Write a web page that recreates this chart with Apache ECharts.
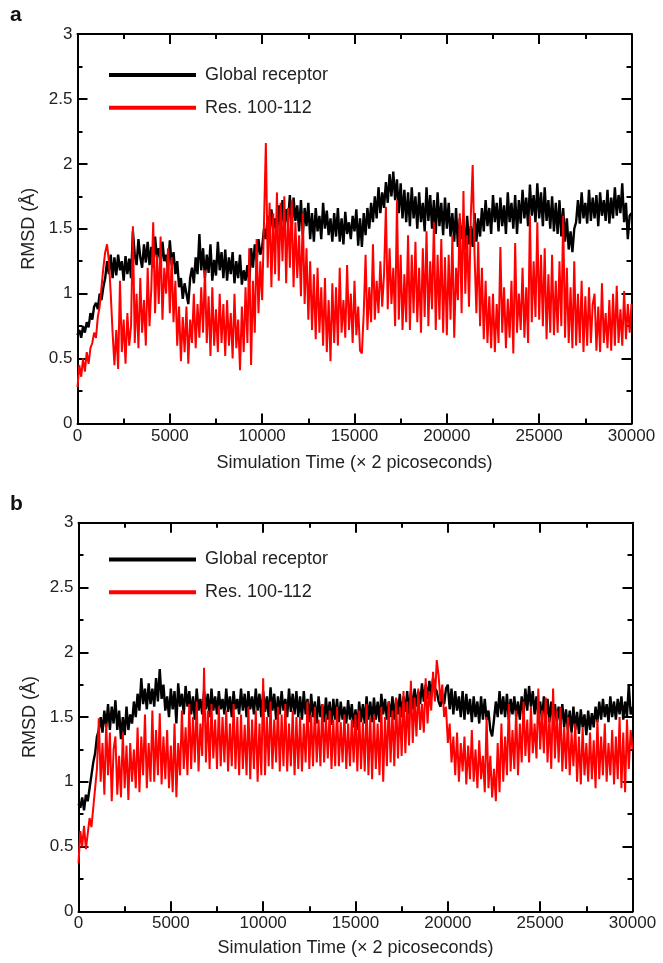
<!DOCTYPE html>
<html>
<head>
<meta charset="utf-8">
<script src="https://cdn.jsdelivr.net/npm/echarts@6/dist/echarts.min.js"></script>
<style>
html,body{margin:0;padding:0;background:#fff;}
#c{width:663px;height:963px;}
</style>
</head>
<body>
<div id="c"></div>
<script>
// Time step between samples (× 2 ps)
var STEP = 100;
var X_TICKS = [0, 5000, 10000, 15000, 20000, 25000, 30000];
var Y_TICKS = [0, 0.5, 1, 1.5, 2, 2.5, 3];
var SERIES_NAMES = ['Global receptor', 'Res. 100-112'];

// Panel a – Global receptor (one row = 2000 time units)
var globalA = [
0.68,0.72,0.66,0.75,0.70,0.78,0.74,0.85,0.80,0.90,0.93,0.88,1.00,0.95,1.05,1.12,1.25,1.15,1.30,1.12,
1.28,1.14,1.30,1.18,1.25,1.10,1.29,1.15,1.27,1.12,1.48,1.30,1.22,1.42,1.28,1.20,1.38,1.24,1.40,1.22,
1.36,1.20,1.44,1.28,1.35,1.22,1.40,1.25,1.30,1.18,1.41,1.22,1.32,1.15,1.25,1.05,1.12,0.96,1.08,1.00,
0.92,1.12,1.20,1.08,1.28,1.15,1.46,1.18,1.35,1.12,1.30,1.16,1.38,1.10,1.26,1.14,1.40,1.18,1.32,1.12,
1.34,1.10,1.28,1.15,1.32,1.08,1.25,1.12,1.30,1.07,1.18,1.10,1.22,1.08,1.35,1.20,1.38,1.25,1.42,1.30,
1.36,1.50,1.42,1.60,1.45,1.65,1.50,1.58,1.46,1.68,1.52,1.72,1.48,1.65,1.55,1.76,1.50,1.74,1.56,1.68,
1.48,1.72,1.45,1.66,1.52,1.70,1.42,1.62,1.40,1.66,1.48,1.60,1.42,1.70,1.50,1.64,1.45,1.58,1.40,1.62,
1.44,1.66,1.40,1.58,1.38,1.63,1.46,1.55,1.42,1.60,1.48,1.65,1.37,1.58,1.36,1.62,1.45,1.66,1.50,1.70,
1.55,1.75,1.58,1.82,1.62,1.78,1.66,1.86,1.70,1.92,1.75,1.94,1.72,1.88,1.62,1.85,1.58,1.80,1.55,1.78,
1.52,1.82,1.58,1.75,1.50,1.78,1.55,1.70,1.48,1.82,1.56,1.76,1.50,1.72,1.46,1.78,1.52,1.70,1.45,1.74,
1.50,1.70,1.44,1.62,1.40,1.66,1.36,1.58,1.42,1.55,1.34,1.60,1.38,1.52,1.36,1.62,1.40,1.58,1.44,1.66,
1.48,1.72,1.52,1.66,1.46,1.76,1.55,1.70,1.48,1.74,1.52,1.68,1.46,1.78,1.55,1.70,1.50,1.76,1.46,1.72,
1.54,1.80,1.58,1.74,1.52,1.84,1.60,1.76,1.55,1.85,1.58,1.78,1.52,1.82,1.56,1.72,1.50,1.75,1.48,1.70,
1.46,1.72,1.44,1.66,1.40,1.58,1.34,1.48,1.32,1.50,1.55,1.72,1.54,1.78,1.58,1.70,1.54,1.80,1.56,1.74,
1.58,1.76,1.52,1.78,1.60,1.72,1.56,1.80,1.54,1.74,1.58,1.82,1.60,1.76,1.62,1.85,1.55,1.70,1.42,1.60,
1.62];

// Panel a – Res. 100-112
var resA = [
0.28,0.45,0.36,0.50,0.40,0.55,0.46,0.58,0.62,0.70,0.66,0.82,0.90,1.05,1.20,1.32,1.38,1.25,1.00,0.70,
0.45,0.72,0.42,1.10,0.55,0.80,0.46,0.85,0.60,0.75,1.52,0.62,1.00,0.58,1.12,0.70,0.95,0.60,1.20,0.75,
1.05,1.55,0.85,1.30,0.92,1.44,0.80,1.20,1.00,1.35,0.85,1.28,0.78,1.10,0.60,0.90,0.48,0.82,0.55,0.90,
0.46,0.80,0.62,1.00,0.58,0.92,0.66,1.05,0.70,1.18,0.62,0.98,0.52,1.05,0.60,0.88,0.55,1.00,0.62,0.92,
0.52,0.95,0.60,0.85,0.50,1.00,0.58,0.80,0.41,0.90,0.55,1.05,0.62,1.35,0.45,1.10,0.70,1.42,0.85,1.25,
0.95,1.55,2.16,1.20,1.70,1.05,1.62,1.15,1.78,1.10,1.70,1.25,1.75,1.08,1.66,1.20,1.72,1.05,1.55,1.12,
1.45,0.98,1.62,0.92,1.35,0.80,1.25,0.72,1.15,0.65,1.20,0.70,1.05,0.60,1.12,0.55,0.95,0.48,1.08,0.62,
1.05,0.60,1.20,0.70,0.95,0.66,1.22,0.72,1.00,0.62,1.10,0.68,0.90,0.56,0.54,0.85,1.30,0.72,1.05,0.78,
1.38,0.80,1.10,0.85,1.25,0.90,1.15,1.67,0.88,1.35,0.92,1.20,0.75,1.72,0.80,1.30,0.72,1.15,0.78,1.45,
0.72,1.30,0.85,1.40,0.78,1.20,0.70,1.35,0.82,1.48,0.75,1.25,0.88,1.55,0.72,1.30,0.80,1.42,0.70,1.28,
0.68,1.30,0.80,1.45,0.66,1.20,0.95,1.62,0.85,1.79,1.00,1.45,0.90,1.60,1.99,1.30,0.85,1.40,0.75,1.20,
0.65,1.10,0.62,0.98,0.58,1.00,0.55,0.92,0.62,1.36,0.70,1.05,0.58,0.96,0.66,1.10,0.54,1.39,0.70,1.00,
0.72,1.20,0.66,1.05,0.62,1.60,0.78,1.25,0.82,1.55,0.80,1.30,0.75,1.35,0.65,1.15,0.70,1.30,0.68,1.10,
0.70,1.25,0.75,1.60,0.66,1.20,0.62,1.05,0.58,1.25,0.60,1.00,0.62,1.10,0.55,0.98,0.60,1.05,0.62,0.92,
1.00,0.56,0.90,0.55,1.08,0.62,0.85,0.58,0.95,0.56,1.00,0.60,1.06,0.62,0.88,0.60,1.02,0.65,0.92,0.70,
0.92];

// Panel b – Global receptor
var globalB = [
0.83,0.80,0.88,0.78,0.90,0.85,0.95,1.05,1.15,1.22,1.35,1.40,1.50,1.38,1.55,1.42,1.60,1.40,1.58,1.45,
1.63,1.40,1.55,1.33,1.50,1.36,1.58,1.40,1.52,1.45,1.62,1.50,1.68,1.55,1.80,1.60,1.72,1.56,1.76,1.60,
1.72,1.58,1.80,1.62,1.87,1.64,1.75,1.55,1.66,1.50,1.72,1.56,1.70,1.45,1.76,1.58,1.68,1.52,1.74,1.58,
1.70,1.52,1.66,1.48,1.72,1.55,1.64,1.52,1.70,1.56,1.68,1.50,1.72,1.55,1.66,1.52,1.70,1.56,1.64,1.52,
1.72,1.54,1.66,1.50,1.70,1.56,1.64,1.52,1.72,1.55,1.68,1.50,1.70,1.56,1.66,1.52,1.72,1.55,1.68,1.50,
1.70,1.54,1.66,1.50,1.73,1.55,1.68,1.48,1.66,1.52,1.70,1.55,1.64,1.50,1.72,1.54,1.68,1.52,1.70,1.50,
1.66,1.48,1.70,1.52,1.64,1.46,1.68,1.50,1.62,1.45,1.66,1.50,1.60,1.46,1.65,1.48,1.62,1.44,1.64,1.48,
1.64,1.46,1.62,1.48,1.58,1.45,1.63,1.48,1.60,1.42,1.56,1.40,1.62,1.46,1.60,1.45,1.66,1.48,1.62,1.46,
1.65,1.48,1.62,1.46,1.68,1.52,1.64,1.48,1.62,1.50,1.66,1.48,1.64,1.52,1.68,1.50,1.66,1.54,1.70,1.52,
1.70,1.56,1.72,1.58,1.70,1.60,1.76,1.62,1.75,1.64,1.78,1.66,1.80,1.72,1.70,1.62,1.58,1.66,1.60,1.72,
1.75,1.56,1.72,1.52,1.70,1.55,1.66,1.50,1.70,1.48,1.68,1.52,1.64,1.46,1.66,1.50,1.62,1.45,1.66,1.48,
1.64,1.48,1.55,1.40,1.35,1.48,1.62,1.50,1.70,1.52,1.66,1.50,1.68,1.48,1.64,1.52,1.66,1.50,1.62,1.48,
1.66,1.52,1.72,1.55,1.74,1.58,1.70,1.52,1.66,1.50,1.62,1.48,1.66,1.50,1.64,1.46,1.62,1.48,1.60,1.46,
1.58,1.45,1.60,1.42,1.56,1.40,1.55,1.38,1.58,1.40,1.54,1.37,1.56,1.42,1.52,1.36,1.55,1.40,1.53,1.42,
1.58,1.46,1.62,1.48,1.64,1.50,1.60,1.46,1.66,1.50,1.62,1.48,1.64,1.52,1.66,1.48,1.62,1.50,1.75,1.52,
1.58];

// Panel b – Res. 100-112
var resB = [
0.37,0.62,0.50,0.66,0.48,0.60,0.72,0.65,0.80,0.95,1.10,1.49,1.00,1.30,0.90,1.45,1.05,1.38,0.85,1.25,
1.35,0.90,1.20,0.88,1.38,0.95,1.28,0.86,1.30,1.00,1.25,0.95,1.42,0.92,1.35,1.05,1.52,0.95,1.30,1.00,
1.55,1.00,1.40,1.05,1.53,0.98,1.35,1.02,1.40,0.95,1.28,0.92,1.45,0.88,1.30,1.05,1.55,1.10,1.42,1.05,
1.60,1.10,1.50,1.15,1.62,1.08,1.45,1.20,1.88,1.15,1.55,1.10,1.60,1.18,1.48,1.10,1.58,1.12,1.50,1.15,
1.55,1.08,1.45,1.12,1.60,1.10,1.50,1.05,1.52,1.10,1.44,1.05,1.58,1.02,1.48,1.10,1.55,1.00,1.45,1.05,
1.80,1.05,1.50,1.12,1.62,1.10,1.48,1.15,1.58,1.08,1.52,1.12,1.60,1.08,1.45,1.12,1.55,1.05,1.50,1.10,
1.50,1.08,1.45,1.15,1.62,1.10,1.52,1.12,1.58,1.15,1.48,1.12,1.60,1.15,1.50,1.18,1.55,1.10,1.48,1.12,
1.58,1.12,1.46,1.15,1.52,1.10,1.45,1.12,1.48,1.15,1.52,1.08,1.55,1.10,1.46,1.08,1.60,1.05,1.50,1.02,
1.52,1.10,1.45,1.05,1.58,1.00,1.50,1.12,1.62,1.15,1.55,1.12,1.65,1.18,1.58,1.20,1.70,1.22,1.62,1.28,
1.78,1.30,1.65,1.35,1.72,1.40,1.60,1.38,1.80,1.45,1.70,1.55,1.85,1.62,1.94,1.82,1.62,1.75,1.50,1.58,
1.30,1.45,1.15,1.35,1.05,1.38,1.00,1.30,1.08,1.35,0.98,1.28,1.02,1.40,1.00,1.25,0.95,1.32,1.02,1.20,
0.92,1.50,0.95,1.20,0.88,1.10,0.85,1.30,0.92,1.45,1.00,1.35,1.05,1.60,1.08,1.40,1.10,1.55,1.05,1.45,
1.15,1.62,1.20,1.48,1.15,1.58,1.22,1.45,1.18,1.72,1.25,1.55,1.22,1.65,1.15,1.50,1.10,1.72,1.18,1.55,
1.15,1.58,1.08,1.42,1.10,1.50,1.05,1.38,1.12,1.45,1.00,1.35,0.98,1.42,1.05,1.30,1.00,1.38,1.02,1.32,
0.95,1.48,1.02,1.35,1.05,1.45,1.00,1.30,1.05,1.40,0.98,1.35,1.02,1.50,0.95,1.38,0.92,1.48,1.10,1.40,
1.25];

function pairs(arr){ return arr.map(function(v,i){ return [i*STEP, v]; }); }

var FONT = 'Liberation Sans, Arial, sans-serif';
var grids = [
  {left:77.5, right:31.5, top:34, height:389.5},
  {left:78.5, right:30.5, top:522.8, height:388.5}
];
var nameGaps = [31, 28];

var xAxes = [], yAxes = [];
grids.forEach(function(g, gi){
  var baseX = {
    type:'value', gridIndex:gi, min:X_TICKS[0], max:X_TICKS[X_TICKS.length-1],
    interval:X_TICKS[1]-X_TICKS[0],
    axisLine:{show:true, onZero:false, lineStyle:{color:'#000', width:2}},
    axisTick:{show:true, inside:true, length:10, lineStyle:{color:'#000', width:2}},
    minorTick:{show:true, splitNumber:2, length:5, lineStyle:{color:'#000', width:2}},
    splitLine:{show:false}, minorSplitLine:{show:false}
  };
  xAxes.push(Object.assign({}, baseX, {
    position:'bottom',
    name:'Simulation Time (× 2 picoseconds)', nameLocation:'middle', nameGap:nameGaps[gi],
    nameTextStyle:{fontFamily:FONT, fontSize:18, color:'#222'},
    axisLabel:{show:true, margin:4, fontFamily:FONT, fontSize:17, color:'#222',
      formatter:function(v){ return String(v); }}
  }));
  xAxes.push(Object.assign({}, baseX, {position:'top', axisLabel:{show:false}}));
  var baseY = {
    type:'value', gridIndex:gi, min:Y_TICKS[0], max:Y_TICKS[Y_TICKS.length-1],
    interval:Y_TICKS[1]-Y_TICKS[0],
    axisLine:{show:true, onZero:false, lineStyle:{color:'#000', width:2}},
    axisTick:{show:true, inside:true, length:10, lineStyle:{color:'#000', width:2}},
    minorTick:{show:true, splitNumber:2, length:5, lineStyle:{color:'#000', width:2}},
    splitLine:{show:false}, minorSplitLine:{show:false}
  };
  yAxes.push(Object.assign({}, baseY, {
    position:'left',
    name:'RMSD (Å)', nameLocation:'middle', nameGap:33, nameRotate:90,
    nameTextStyle:{fontFamily:FONT, fontSize:18, color:'#222'},
    axisLabel:{show:true, margin:5, fontFamily:FONT, fontSize:17, color:'#222',
      formatter:function(v){ return String(v); }}
  }));
  yAxes.push(Object.assign({}, baseY, {position:'right', axisLabel:{show:false}}));
});

var panels = [[globalA, resA], [globalB, resB]];
var colors = ['#000000', '#ff0000'];
var widths = [2.4, 2.0];
var series = [];
panels.forEach(function(p, gi){
  p.forEach(function(arr, si){
    series.push({
      name:SERIES_NAMES[si], type:'line', xAxisIndex:gi*2, yAxisIndex:gi*2,
      data:pairs(arr), showSymbol:false, symbol:'none', sampling:false,
      color:colors[si],
      lineStyle:{color:colors[si], width:widths[si], join:'bevel'},
      z: 2+si, animation:false
    });
  });
});

var legendTops = [61, 545.5];
var legends = legendTops.map(function(t){
  return {
    orient:'vertical', left:104, top:t, itemWidth:87, itemHeight:4, itemGap:14.7,
    icon:'rect', selectedMode:false,
    textStyle:{fontFamily:FONT, fontSize:18, color:'#222', lineHeight:18, padding:[0,0,0,4]},
    data:SERIES_NAMES.map(function(n,i){ return {name:n, itemStyle:{color:colors[i]}}; })
  };
});

var chart = echarts.init(document.getElementById('c'), null, {renderer:'canvas'});
chart.setOption({
  backgroundColor:'#fff',
  animation:false,
  title:[
    {text:'a', left:10, top:5, padding:0, textStyle:{fontFamily:FONT, fontSize:21, fontWeight:'bold', color:'#111'}},
    {text:'b', left:10, top:494, padding:0, textStyle:{fontFamily:FONT, fontSize:21, fontWeight:'bold', color:'#111'}}
  ],
  grid:grids,
  xAxis:xAxes,
  yAxis:yAxes,
  legend:legends,
  series:series
});
</script>
</body>
</html>
